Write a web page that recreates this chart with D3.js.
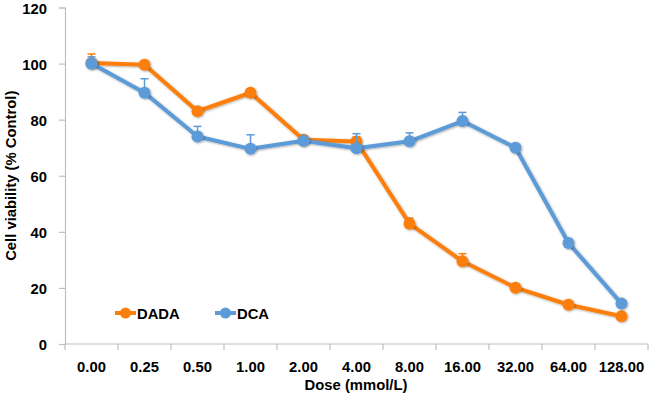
<!DOCTYPE html>
<html>
<head>
<meta charset="utf-8">
<script src="https://cdn.jsdelivr.net/npm/d3@7"></script>
<style>
  body { margin: 0; background: #fff; }
  svg { display: block; }
  text { font-family: "Liberation Sans", Arial, sans-serif; font-weight: bold; fill: #000; }
</style>
</head>
<body>
<svg id="chart" width="650" height="395"></svg>
<script>
const categories = ["0.00", "0.25", "0.50", "1.00", "2.00", "4.00", "8.00", "16.00", "32.00", "64.00", "128.00"];
const dadaValues = [100.2, 99.6, 83.0, 89.6, 72.8, 72.2, 42.9, 29.5, 20.1, 14.0, 9.9];
const dadaErrors = [3.2, 0.6, 0.6, 0.6, 0.6, 1.6, 2.0, 2.7, 0.6, 0.6, 0.6];
const dcaValues = [100.0, 89.6, 74.0, 69.6, 72.5, 69.8, 72.3, 79.5, 70.0, 36.0, 14.4];
const dcaErrors = [2.4, 5.0, 3.6, 5.0, 0.6, 5.2, 3.0, 3.1, 0.6, 0.6, 0.6];
const yTicks = [0, 20, 40, 60, 80, 100, 120];
const seriesNames = ["DADA", "DCA"];
const colors = { DADA: "#FC7F08", DCA: "#5B9BD8" };

const series = [
  { name: seriesNames[0], values: dadaValues, errors: dadaErrors },
  { name: seriesNames[1], values: dcaValues, errors: dcaErrors }
];

const svg = d3.select("#chart");
const margin = { left: 65, right: 2, top: 7.5, bottom: 51 };
const W = 650, H = 395;
const FS = "14.8px";

const x = d3.scaleBand().domain(categories).range([margin.left, W - margin.right]);
const y = d3.scaleLinear().domain([0, 120]).range([H - margin.bottom, margin.top]);

const defs = svg.append("defs");
const f = defs.append("filter").attr("id", "shadow").attr("x", "-50%").attr("y", "-50%").attr("width", "200%").attr("height", "200%");
f.append("feDropShadow").attr("dx", 0.8).attr("dy", 0.8).attr("stdDeviation", 0.8).attr("flood-color", "#000").attr("flood-opacity", 0.35);

// Y axis
const yAxis = d3.axisLeft(y).tickValues(yTicks).tickSize(6).tickPadding(12);
const gy = svg.append("g").attr("transform", `translate(${margin.left},0)`).call(yAxis);
gy.selectAll("text").style("font-size", FS).attr("dy", "0.38em");
gy.select(".domain").attr("stroke", "#BFBFBF").attr("stroke-width", 1.2);
gy.selectAll(".tick line").attr("stroke", "#BFBFBF").attr("stroke-width", 1.2);

// X axis: ticks at band boundaries
const gx = svg.append("g").attr("transform", `translate(0,${y(0)})`);
gx.append("line").attr("x1", margin.left).attr("x2", W - margin.right).attr("stroke", "#BFBFBF").attr("stroke-width", 1.2);
const bounds = categories.map(c => x(c)).concat([x(categories[categories.length - 1]) + x.bandwidth()]);
gx.selectAll("line.tk").data(bounds).enter().append("line").attr("class", "tk")
  .attr("x1", d => d).attr("x2", d => d).attr("y1", 0).attr("y2", 6)
  .attr("stroke", "#BFBFBF").attr("stroke-width", 1.2);
gx.selectAll("text.lbl").data(categories).enter().append("text").attr("class", "lbl")
  .attr("x", d => x(d) + x.bandwidth() / 2).attr("y", 28)
  .attr("text-anchor", "middle").style("font-size", FS).text(d => d);

// Axis titles
svg.append("text").attr("x", 356).attr("y", 390).attr("text-anchor", "middle")
  .style("font-size", FS).text("Dose (mmol/L)");
svg.append("text").attr("transform", `translate(16,${(y(0) + y(120)) / 2}) rotate(-90)`)
  .attr("text-anchor", "middle").style("font-size", FS).text("Cell viability (% Control)");

const cx = c => x(c) + x.bandwidth() / 2;
const line = d3.line().x((d, i) => cx(categories[i])).y(d => y(d));

series.forEach(s => {
  const g = svg.append("g");
  s.values.forEach((v, i) => {
    const xc = cx(categories[i]);
    g.append("line").attr("x1", xc).attr("x2", xc).attr("y1", y(v)).attr("y2", y(v + s.errors[i]))
      .attr("stroke", colors[s.name]).attr("stroke-width", 1.5);
    g.append("line").attr("x1", xc - 4).attr("x2", xc + 4).attr("y1", y(v + s.errors[i])).attr("y2", y(v + s.errors[i]))
      .attr("stroke", colors[s.name]).attr("stroke-width", 1.5);
  });
  g.append("path").datum(s.values).attr("d", line).attr("fill", "none")
    .attr("stroke", colors[s.name]).attr("stroke-width", 4).attr("stroke-linejoin", "round")
    .attr("filter", "url(#shadow)");
  g.selectAll("circle").data(s.values).enter().append("circle")
    .attr("cx", (d, i) => cx(categories[i])).attr("cy", d => y(d)).attr("r", 6)
    .attr("fill", colors[s.name]).attr("filter", "url(#shadow)");
});

// Legend
const legendX = [115, 215];
series.forEach((s, i) => {
  const lx = legendX[i], ly = 313;
  svg.append("line").attr("x1", lx).attr("x2", lx + 21).attr("y1", ly).attr("y2", ly)
    .attr("stroke", colors[s.name]).attr("stroke-width", 4);
  svg.append("circle").attr("cx", lx + 10.5).attr("cy", ly).attr("r", 5.5).attr("fill", colors[s.name]);
  svg.append("text").attr("x", lx + 22).attr("y", ly + 5.5).style("font-size", FS).text(s.name);
});
</script>
</body>
</html>
